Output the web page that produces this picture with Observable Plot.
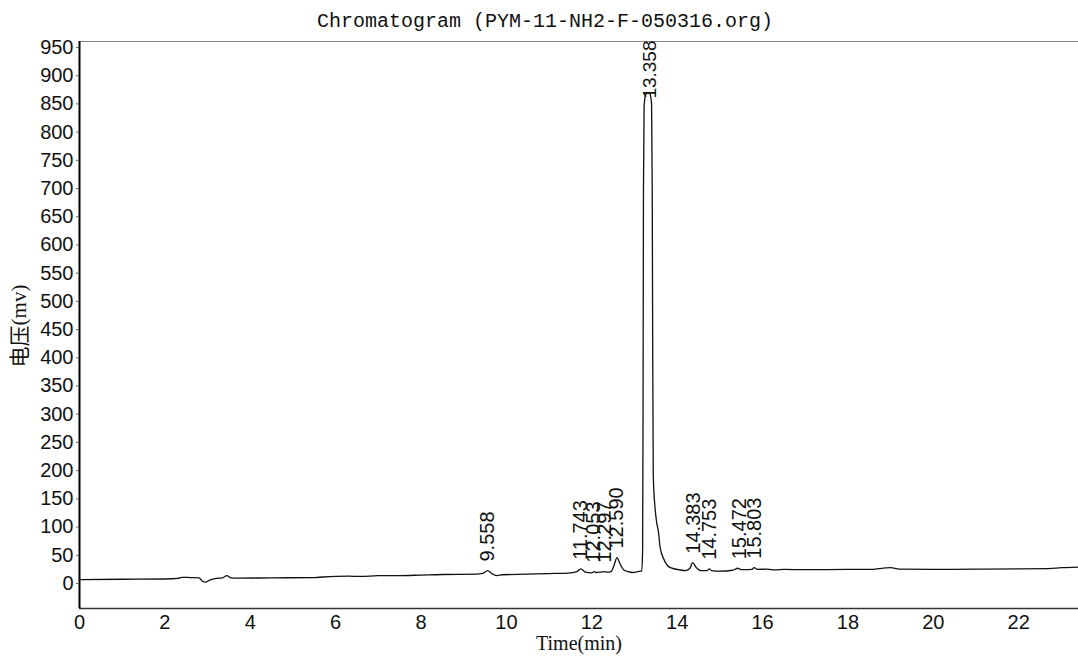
<!DOCTYPE html>
<html><head><meta charset="utf-8">
<script src="https://cdn.jsdelivr.net/npm/d3@7"></script>
<script src="https://cdn.jsdelivr.net/npm/@observablehq/plot@0.6"></script>
<style>
body{margin:0;background:#fff;width:1078px;height:656px;overflow:hidden;}
#title{height:30px;position:relative;}
#title span{position:absolute;top:9px;left:0;width:1090px;text-align:center;line-height:26px;font-family:"Liberation Mono","DejaVu Sans Mono",monospace;font-size:20px;color:#111;white-space:pre;}
</style></head>
<body>
<div id="title"><span>Chromatogram (PYM-11-NH2-F-050316.org)</span></div>
<div id="chart"></div>
<script>
// Time (min) of each recorded point
const time = [0,1.0,2.0,2.3,2.4,2.6,2.8,2.88,2.95,3.05,3.2,3.35,3.45,3.55,3.7,4.5,5.5,5.7,6.3,6.6,7.0,7.5,8.0,8.5,9.3,9.45,9.56,9.65,9.77,9.9,10.5,11.0,11.5,11.65,11.743,11.85,12.0,12.053,12.1,12.297,12.35,12.45,12.52,12.59,12.66,12.75,12.85,12.95,13.05,13.14,
  13.17,13.19,13.2,13.21,13.225,13.26,13.31,13.36,13.40,13.415,13.425,13.44,13.48,13.52,13.56,13.60,13.70,13.84,14.07,14.2,14.3,14.36,14.45,14.55,14.7,14.753,14.8,15.0,15.3,15.42,15.472,15.55,15.75,15.803,15.88,16.1,16.3,16.5,17.0,18.0,18.5,19.0,19.2,20.0,21.0,22.0,22.7,23.0,23.4];
// Voltage (mv) at each point
const mv = [7,7.5,8,9,11,10.5,10,4,2.5,6,9,10,14,10,9.5,10,10.5,11.5,13,12.5,14,14,15,16,16.5,18,23,18,14,15.5,16.5,17.5,19,21,26,20,19,21,19.5,21,20,21,32,46,35,24,21,19.5,20.5,22,
  22,60,300,700,845,866,870,868,850,700,450,190,135,108,92,64,41,28,24,23,27,37,28,23,23,26,23,22,23.5,27,25,24.5,25,28,25,25.5,24,25,24.5,25,25,28,25.5,25,25.5,26,26.5,28,29];
// Peak labels (retention time) and apex heights
const peakTimes = [9.558,11.743,12.053,12.297,12.590,14.383,14.753,15.472,15.803];
const peakApex  = [23,26,21,21,46,37,26,27,28];
const mainPeakTime = [13.358];
const mainPeakApex = [870];
// Axis ticks and domains
const xTicks = [0,2,4,6,8,10,12,14,16,18,20,22];
const yTicks = [0,50,100,150,200,250,300,350,400,450,500,550,600,650,700,750,800,850,900,950];
const xDomain = [0,23.4];
const yDomain = [-44.3,960.6];

const trace = time.map((t,i)=>({t, v: mv[i]}));
const peaks = peakTimes.map((t,i)=>({t, v: peakApex[i], label: t.toFixed(3)}));
const mainPeak = mainPeakTime.map((t,i)=>({t, v: mainPeakApex[i], label: t.toFixed(3)}));

const plot = Plot.plot({
  width: 1078,
  height: 626,
  marginTop: 11,
  marginBottom: 48,
  marginLeft: 79,
  marginRight: 0,
  style: {fontFamily: "'Liberation Sans', Arial, sans-serif", background: "#fff", color: "#111"},
  x: {domain: xDomain},
  y: {domain: yDomain},
  marks: [
    Plot.ruleY([yDomain[1]], {stroke: "#888", strokeWidth: 1}),
    Plot.ruleY([yDomain[0]], {stroke: "#333", strokeWidth: 1.6}),
    Plot.ruleX([xDomain[0]], {stroke: "#000", strokeWidth: 2}),
    Plot.axisY({ticks: yTicks, tickSize: 3, tickPadding: 3, fontSize: 20, label: null, stroke: "#666"}),
    Plot.axisX({ticks: xTicks, tickSize: 0, tickPadding: 6, fontSize: 20, label: null}),
    Plot.line(trace, {x: "t", y: "v", stroke: "#111", strokeWidth: 1.3, curve: "monotone-x"}),
    Plot.text(peaks, {x: "t", y: "v", text: "label", rotate: -90, textAnchor: "start", dy: -9, fontSize: 20, fill: "#111"}),
    Plot.text(mainPeak, {x: "t", y: "v", text: "label", rotate: -90, textAnchor: "start", dy: 6, fontSize: 19, fill: "#111"}),
    Plot.text(["Time(min)"], {frameAnchor: "bottom", lineAnchor: "middle", dy: 35, fontSize: 20, fontFamily: "'Liberation Serif', 'Times New Roman', serif", fill: "#111"})
  ]
});
document.getElementById("chart").appendChild(plot);

// y-axis title with mixed scripts
const svg = d3.select(plot);
const yl = svg.append("text")
  .attr("transform", "translate(21,296) rotate(-90)")
  .attr("text-anchor", "middle")
  .attr("dominant-baseline", "middle")
  .attr("fill", "#111")
  .attr("font-size", 21);
yl.append("tspan").attr("font-family", "'Noto Sans CJK SC', sans-serif").text("电压");
yl.append("tspan").attr("font-family", "'Liberation Serif', serif").text("(mv)");
</script>
</body></html>
